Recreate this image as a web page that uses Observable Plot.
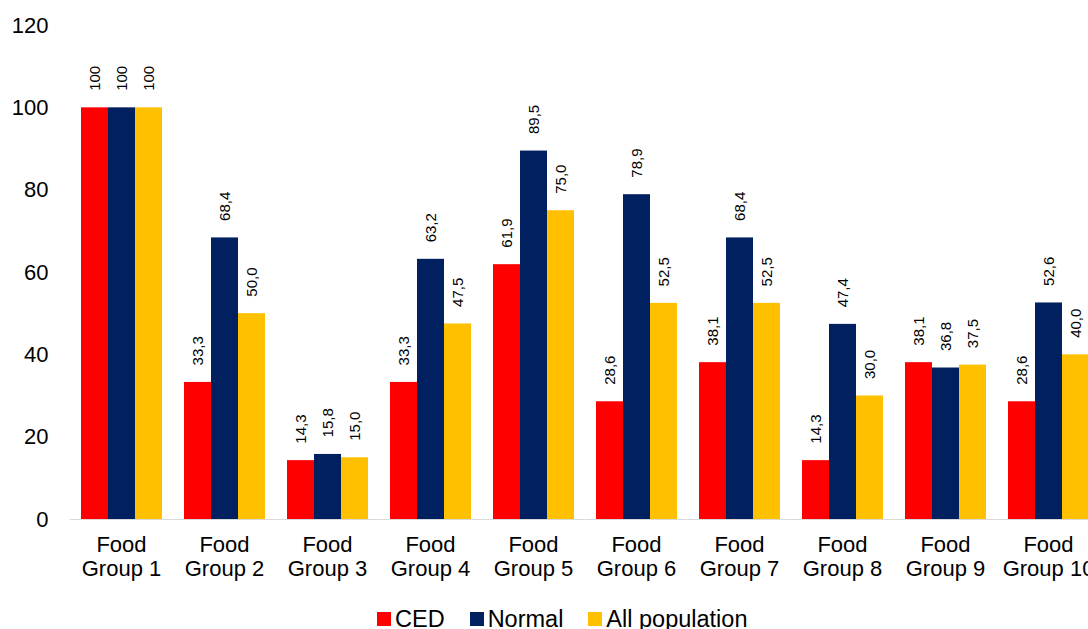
<!DOCTYPE html>
<html>
<head>
<meta charset="utf-8">
<script src="https://cdn.jsdelivr.net/npm/d3@7"></script>
<script src="https://cdn.jsdelivr.net/npm/@observablehq/plot@0.6"></script>
<style>
  html, body { margin: 0; padding: 0; background: #fff; overflow: hidden; }
  #wrap { position: relative; width: 1088px; height: 629px; overflow: hidden; font-family: "Liberation Sans", Arial, sans-serif; }
  #chart { position: absolute; left: 0; top: 0; width: 1100px; }
  #chart svg { max-width: none !important; }
  #legend { position: absolute; top: 606px; left: 377px; display: flex; align-items: center; font-size: 23.5px; line-height: 26px; color: #000; white-space: nowrap; }
  #legend .item { display: flex; align-items: center; margin-right: 25px; }
  #legend .sw { width: 14px; height: 14px; margin-right: 4px; display: inline-block; }
</style>
</head>
<body>
<div id="wrap">
  <div id="chart"></div>
  <div id="legend"></div>
</div>
<script>
const groups = ["Food Group 1", "Food Group 2", "Food Group 3", "Food Group 4", "Food Group 5",
                "Food Group 6", "Food Group 7", "Food Group 8", "Food Group 9", "Food Group 10"];
const series = ["CED", "Normal", "All population"];
const ced = [100, 33.3, 14.3, 33.3, 61.9, 28.6, 38.1, 14.3, 38.1, 28.6];
const normal = [100, 68.4, 15.8, 63.2, 89.5, 78.9, 68.4, 47.4, 36.8, 52.6];
const allPopulation = [100, 50.0, 15.0, 47.5, 75.0, 52.5, 52.5, 30.0, 37.5, 40.0];
const colors = ["#FF0000", "#002060", "#FFC000"];
const yTicks = [0, 20, 40, 60, 80, 100, 120];

const valuesBySeries = [ced, normal, allPopulation];
const data = groups.flatMap((g, i) => series.map((s, j) => ({group: g, series: s, value: valuesBySeries[j][i]})));

const fmt = v => v === 100 ? "100" : v.toFixed(1).replace(".", ",");

const chart = Plot.plot({
  width: 1100,
  height: 600,
  marginLeft: 70,
  marginRight: 0,
  marginTop: 25,
  marginBottom: 81,
  style: {fontFamily: "'Liberation Sans', Arial, sans-serif", fontSize: "22px", color: "#000", background: "#fff", maxWidth: "none"},
  fx: {domain: groups, paddingInner: 0.2, paddingOuter: 0.1, label: null, axis: null},
  x: {domain: series, padding: 0, axis: null},
  y: {domain: [0, 120], axis: null},
  color: {domain: series, range: colors},
  marks: [
    Plot.barY(data, {fx: "group", x: "series", y: "value", fill: "series"}),
    Plot.ruleY([0], {stroke: "#d9d9d9", strokeWidth: 1.2, insetLeft: -10.3, insetRight: -10.3}),
    Plot.text(data, {fx: "group", x: "series", y: "value", text: d => fmt(d.value), rotate: -90, textAnchor: "start", dy: -17, fontSize: 15, fill: "#000"}),
    Plot.axisY({ticks: yTicks, tickSize: 0, tickPadding: 32, label: null, fontSize: 22, tickFormat: d => String(d)}),
    Plot.axisFx({anchor: "bottom", tickSize: 0, tickPadding: 15, label: null, fontSize: 22, lineHeight: 1.1, tickFormat: d => d.replace(" Group", "\nGroup")})
  ]
});
document.getElementById("chart").appendChild(chart);

const legend = document.getElementById("legend");
series.forEach((s, i) => {
  const item = document.createElement("div");
  item.className = "item";
  const sw = document.createElement("span");
  sw.className = "sw";
  sw.style.background = colors[i];
  const t = document.createElement("span");
  t.textContent = s;
  item.appendChild(sw);
  item.appendChild(t);
  legend.appendChild(item);
});
</script>
</body>
</html>
